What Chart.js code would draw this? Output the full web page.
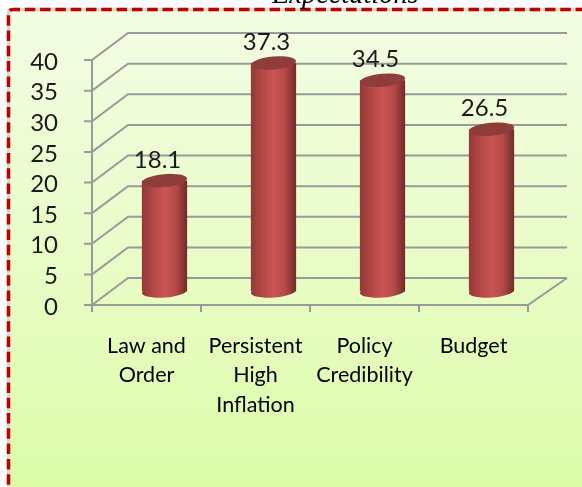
<!DOCTYPE html>
<html>
<head>
<meta charset="utf-8">
<style>
  html, body { margin: 0; padding: 0; background: #fff; overflow: hidden; }
  #wrap { position: relative; width: 582px; height: 487px; overflow: hidden; }
  #heading { position: absolute; left: 272px; top: -22px; font: italic 28.4px "Liberation Serif", serif; color: #000; }
  canvas { position: absolute; left: 0; top: 0; }
</style>
<script src="https://cdn.jsdelivr.net/npm/chart.js@4/dist/chart.umd.js"></script>
</head>
<body>
<div id="wrap">
  <canvas id="chart" width="582" height="487"></canvas>
  <div id="heading">Expectations</div>
</div>
<script>
const categories = [["Law and", "Order"], ["Persistent", "High", "Inflation"], ["Policy", "Credibility"], ["Budget"]];
const values = [18.1, 37.3, 34.5, 26.5];
const yTicks = [0, 5, 10, 15, 20, 25, 30, 35, 40];

const DEPTH_X = 36, DEPTH_Y = 27; // 3D wall offset
const GRID = "#9a9a9a";
const FONT = 'Lato, "Open Sans", sans-serif';

// panel behind everything: gradient + dashed red border
const panel = {
  id: "panel",
  beforeDraw(c) {
    const g = c.ctx;
    g.save();
    const grad = g.createLinearGradient(0, 10, 0, 487);
    grad.addColorStop(0, "#f3fde4");
    grad.addColorStop(0.5, "#e9fcc8");
    grad.addColorStop(1, "#dcfca8");
    g.fillStyle = grad;
    g.fillRect(8.5, 9.5, 600, 500);
    const edge = () => {
      g.beginPath();
      g.moveTo(8.5, 500);
      g.lineTo(8.5, 14);
      g.quadraticCurveTo(8.5, 9.5, 13, 9.5);
      g.lineTo(600, 9.5);
      g.stroke();
    };
    g.lineWidth = 3.5;
    g.strokeStyle = "#d9d9cc";
    edge();
    g.strokeStyle = "#c00000";
    g.setLineDash([10.5, 4.8]);
    edge();
    g.restore();
  },
};

// back wall, floor and slanted gridlines, drawn from the scales
const walls = {
  id: "walls",
  beforeDatasetsDraw(c) {
    const g = c.ctx, x = c.scales.x, y = c.scales.y;
    const l = x.left, r = x.right;
    g.save();
    g.strokeStyle = GRID;
    g.lineWidth = 2;
    yTicks.forEach((t) => {
      const p = y.getPixelForValue(t);
      g.beginPath();
      g.moveTo(l - 8, p);
      g.lineTo(l, p);
      g.lineTo(l + DEPTH_X, p - DEPTH_Y);
      g.lineTo(r + DEPTH_X + 3, p - DEPTH_Y);
      g.stroke();
    });
    const p0 = y.getPixelForValue(0);
    g.beginPath();
    g.moveTo(l, y.getPixelForValue(40));
    g.lineTo(l, p0 + 7);
    g.moveTo(l, p0);
    g.lineTo(r, p0);
    g.lineTo(r + DEPTH_X + 3, p0 - DEPTH_Y);
    g.stroke();
    // category ticks
    for (let i = 0; i <= categories.length; i++) {
      const tx = l + (r - l) * i / categories.length;
      g.beginPath();
      g.moveTo(tx, p0);
      g.lineTo(tx, p0 + 7);
      g.stroke();
    }
    g.restore();
  },
};

// bars get pushed to mid depth, then capped as cylinders
const cylinders = {
  id: "cylinders",
  beforeDatasetDraw(c) {
    const g = c.ctx;
    g.save();
    g.translate(DEPTH_X / 2, -DEPTH_Y / 2);
    const p0 = c.scales.y.getPixelForValue(0);
    c.getDatasetMeta(0).data.forEach((bar) => {
      const grad = g.createLinearGradient(bar.x - bar.width / 2, 0, bar.x + bar.width / 2, 0);
      grad.addColorStop(0, "#933836");
      grad.addColorStop(0.25, "#b24846");
      grad.addColorStop(0.5, "#ca5553");
      grad.addColorStop(0.75, "#b64a48");
      grad.addColorStop(1, "#702b2a");
      g.fillStyle = grad;
      g.beginPath();
      g.ellipse(bar.x, p0, bar.width / 2, 6, -0.07, 0, Math.PI * 2);
      g.fill();
      bar.options = Object.assign({}, bar.options, { backgroundColor: grad });
    });
  },
  afterDatasetDraw(c) {
    const g = c.ctx;
    c.getDatasetMeta(0).data.forEach((bar) => {
      g.fillStyle = "#8f3c3a";
      g.beginPath();
      g.ellipse(bar.x, bar.y, bar.width / 2, 6.5, -0.09, 0, Math.PI * 2);
      g.fill();
    });
    g.restore();
    // value labels above the caps
    g.save();
    g.font = "24px " + FONT;
    g.fillStyle = "#1a1a1a";
    g.textAlign = "center";
    g.textBaseline = "alphabetic";
    c.getDatasetMeta(0).data.forEach((bar, i) => {
      g.fillText(values[i].toFixed(1), bar.x + DEPTH_X / 2 - 7, bar.y - DEPTH_Y / 2 - 13);
    });
    g.restore();
  },
};

new Chart(document.getElementById("chart"), {
  type: "bar",
  data: {
    labels: categories,
    datasets: [{ data: values, backgroundColor: "#b64a48", barPercentage: 0.83, categoryPercentage: 0.5, borderWidth: 0 }],
  },
  options: {
    responsive: false,
    animation: false,
    layout: { padding: { left: 0, top: 60, right: 54, bottom: 0 } },
    plugins: { legend: { display: false }, tooltip: { enabled: false } },
    scales: {
      x: {
        grid: { display: false },
        border: { display: false },
        ticks: { color: "#000", font: { family: FONT, size: 21.5, lineHeight: 1.38 }, maxRotation: 0, autoSkip: false, padding: 18 },
        afterFit(s) { s.height = 182; },
      },
      y: {
        min: 0, max: 40,
        afterBuildTicks(s) { s.ticks = yTicks.map((v) => ({ value: v })); },
        grid: { display: false },
        border: { display: false },
        ticks: { color: "#1a1a1a", font: { family: FONT, size: 24 }, padding: 26, autoSkip: false, labelOffset: 2 },
        afterFit(s) { s.width = 92; },
      },
    },
  },
  plugins: [panel, walls, cylinders],
});
</script>
</body>
</html>
